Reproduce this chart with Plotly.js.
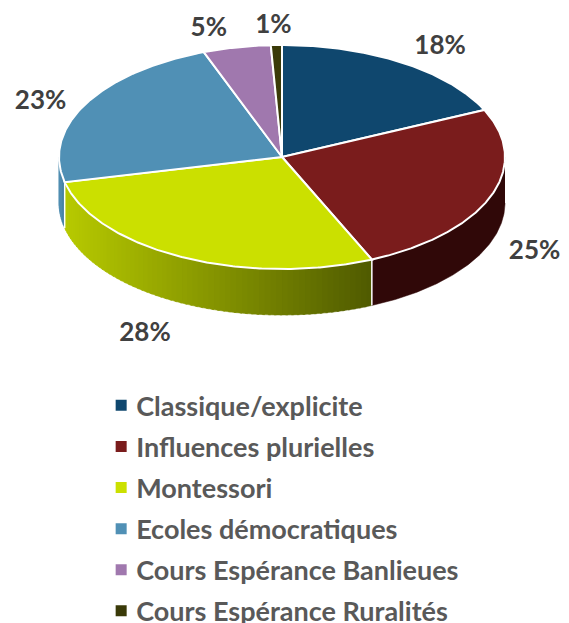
<!DOCTYPE html>
<html>
<head>
<meta charset="utf-8">
<script src="https://cdn.plot.ly/plotly-3.0.1.min.js"></script>
<style>html,body{margin:0;padding:0;background:#fff}</style>
</head>
<body>
<div id="chart" style="width:569px;height:623px"></div>
<script>
var categories = ["Classique/explicite","Influences plurielles","Montessori","Ecoles démocratiques","Cours Espérance Banlieues","Cours Espérance Ruralités"];
var shares = [18.1,25.3,28.0,22.9,4.9,0.8];
var topColors = ["#0F476E","#7A1C1C","#CBE000","#5090B5","#A078AE","#3A3A08"];
var sideStart = ["#0A3048","#300808","#4F5A00","#3F7A9C","#6C4F76","#262605"];
var sideEnd   = ["#0A3048","#300808","#B7CA00","#4F8DB2","#6C4F76","#262605"];
var labelOffsets = [[38,-15],[44,56],[-37,77],[-45,-1],[-28,-18],[-3,-19]];

var cx=282, cy=157, rx=223, ry=112, depth=46;
function px(deg){return cx+rx*Math.sin(deg*Math.PI/180);}
function py(deg,dz){return cy-ry*Math.cos(deg*Math.PI/180)+(dz||0);}
function hex(c){return [1,3,5].map(function(i){return parseInt(c.substr(i,2),16);});}
function mix(a,b,t){var A=hex(a),B=hex(b);return "rgb("+A.map(function(v,i){return Math.round(v+(B[i]-v)*t);}).join(",")+")";}

var traces=[];
// legend swatches, lying under the faces
categories.forEach(function(name,i){
  traces.push({type:"scatter",mode:"markers",x:[cx],y:[cy],name:name,legendgroup:name,
    marker:{symbol:"square",size:11,color:topColors[i]},hoverinfo:"skip",showlegend:true});
});
var total=shares.reduce(function(a,b){return a+b;},0), run=0, bounds=[0];
shares.forEach(function(v){run+=v;bounds.push(run/total*360);});

// side wall
shares.forEach(function(v,i){
  var a=Math.max(bounds[i],90), b=Math.min(bounds[i+1],270);
  if(b<=a) return;
  var n=sideStart[i]===sideEnd[i]?1:Math.max(1,Math.ceil((b-a)/1.5));
  for(var k=0;k<n;k++){
    var s=a+(b-a)*k/n, e=a+(b-a)*(k+1)/n+(k<n-1?0.6:0), xs=[],ys=[];
    for(var d=s;d<e;d+=0.5){xs.push(px(d));ys.push(py(d));}
    xs.push(px(e));ys.push(py(e));
    xs.push(px(e));ys.push(py(e,depth));
    for(var d2=e;d2>s;d2-=0.5){xs.push(px(d2));ys.push(py(d2,depth));}
    xs.push(px(s));ys.push(py(s,depth));
    var tX=(px(s)+px(e))/2;
    var t=(px(b)===px(a))?0:(tX-px(a))/(px(b)-px(a));
    var col=mix(sideStart[i],sideEnd[i],t);
    traces.push({type:"scatter",mode:"lines",x:xs,y:ys,fill:"toself",fillcolor:col,
      line:{width:0.5,color:col},hoverinfo:"skip",showlegend:false});
  }
});
// seams between wall sections
bounds.forEach(function(d){
  if(d>90&&d<270){
    traces.push({type:"scatter",mode:"lines",x:[px(d),px(d)],y:[py(d),py(d,depth)],
      line:{width:1.5,color:"#ffffff"},hoverinfo:"skip",showlegend:false});
  }
});
// top faces
shares.forEach(function(v,i){
  var xs=[cx],ys=[cy];
  for(var d=bounds[i];d<bounds[i+1];d+=0.5){xs.push(px(d));ys.push(py(d));}
  xs.push(px(bounds[i+1]));ys.push(py(bounds[i+1]));
  xs.push(cx);ys.push(cy);
  traces.push({type:"scatter",mode:"lines",x:xs,y:ys,fill:"toself",fillcolor:topColors[i],
    line:{width:2,color:"#ffffff"},name:categories[i],text:Math.round(v)+"%",hoverinfo:"name+text",showlegend:false});
});
// percentage labels
var lx=[],ly=[],lt=[];
shares.forEach(function(v,i){
  var mid=(bounds[i]+bounds[i+1])/2;
  lx.push(px(mid)+labelOffsets[i][0]);
  ly.push(py(mid)+labelOffsets[i][1]);
  lt.push(Math.round(v)+"%");
});
traces.push({type:"scatter",mode:"text",x:lx,y:ly,text:lt,textposition:"middle center",cliponaxis:false,
  textfont:{family:"Lato, sans-serif",size:26,color:"#404040",weight:700},hoverinfo:"skip",showlegend:false});

var layout={
  width:569,height:623,margin:{l:0,r:0,t:0,b:0,autoexpand:false},
  paper_bgcolor:"#fff",plot_bgcolor:"#fff",
  xaxis:{range:[0,569],visible:false,fixedrange:true},
  yaxis:{range:[623,0],visible:false,fixedrange:true},
  showlegend:true,
  legend:{x:0.169,xanchor:"left",y:0.388,yanchor:"top",tracegroupgap:3,itemwidth:30,
    bgcolor:"rgba(0,0,0,0)",font:{family:"Lato, sans-serif",size:27,color:"#595959",weight:700}}
};
Plotly.newPlot("chart",traces,layout,{displayModeBar:false,responsive:false}).then(function(){
  // swatch sits closer to its text than the legend's minimum item width allows
  document.querySelectorAll("#chart .legendpoints").forEach(function(g){
    g.setAttribute("transform","translate(5,0)");
  });
});
</script>
</body>
</html>
